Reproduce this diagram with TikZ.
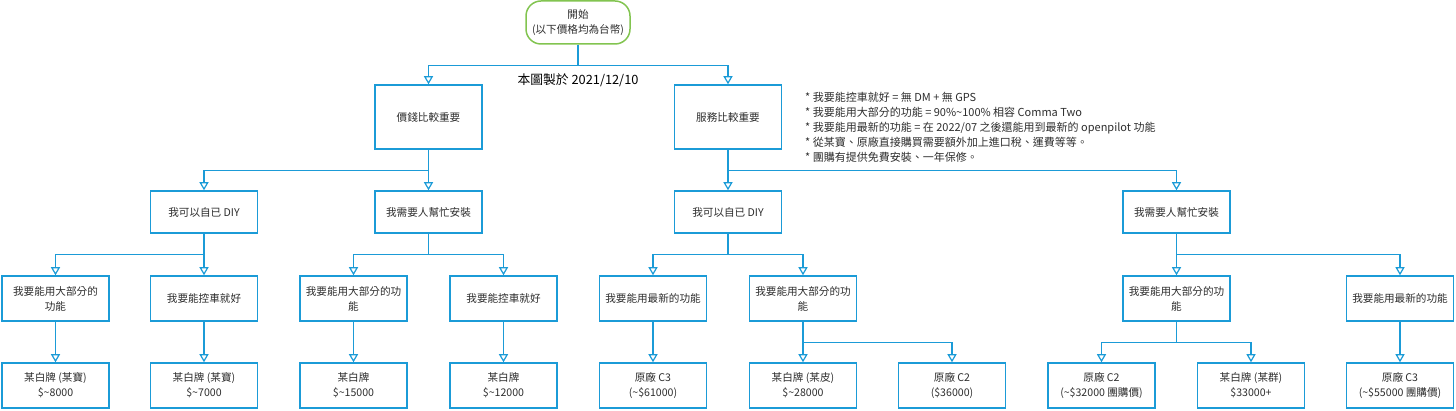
\documentclass[tikz,border=0pt]{standalone}
\usepackage{fontspec}
\setmainfont{Noto Sans CJK TC}
\usetikzlibrary{arrows.meta}
\definecolor{flowblue}{RGB}{27,155,215}
\definecolor{startgreen}{RGB}{130,196,80}
\definecolor{textgray}{RGB}{45,45,45}
\tikzset{
  box/.style={draw=flowblue,line width=1.5pt,fill=white,text=textgray,
    minimum width=107pt,minimum height=45pt,align=center,inner sep=2pt,
    font=\fontsize{10.6}{15}\selectfont},
  fork/.style={draw=flowblue,line width=1.2pt,
    -{Triangle[fill=white,length=8pt,width=9pt]},
    to path={-- ++(0,21) -| (\tikztotarget)}}
}
\begin{document}
\begin{tikzpicture}[x=1pt,y=-1pt]
  \useasboundingbox (0,0) rectangle (1456,411);
  % start and notes
  \node[draw=startgreen,line width=1.5pt,rounded corners=15pt,fill=white,
        text=textgray,minimum width=104pt,minimum height=43pt,align=center,
        font=\fontsize{10.6}{15}\selectfont] (start) at (578,22.5)
        {開始\\(以下價格均為台幣)};
  \node[text=black,font=\fontsize{12.8}{15}\selectfont] (date) at (578,80)
        {本圖製於 2021/12/10};
  \node[anchor=north west,inner sep=0pt,align=left,text=textgray,
        font=\fontsize{11}{15}\selectfont] (notes) at (805,92)
        {* 我要能控車就好 = 無 DM + 無 GPS\\
         * 我要能用大部分的功能 = 90\%\textasciitilde 100\% 相容 Comma Two\\
         * 我要能用最新的功能 = 在 2022/07 之後還能用到最新的 openpilot 功能\\
         * 從某寶、原廠直接購買需要額外加上進口稅、運費等等。\\
         * 團購有提供免費安裝、一年保修。};
  \begin{scope}[every node/.style={box}]
    % level 1
    \node[minimum height=64pt] (price) at (428.5,117) {價錢比較重要};
    \node[minimum height=64pt] (service) at (728,117) {服務比較重要};
    % level 2
    \node[minimum height=42pt] (diyA) at (204,212) {我可以自已 DIY};
    \node[minimum height=42pt] (helpA) at (428.5,212) {我需要人幫忙安裝};
    \node[minimum height=42pt] (diyB) at (728,212) {我可以自已 DIY};
    \node[minimum height=42pt] (helpB) at (1176.5,212) {我需要人幫忙安裝};
    % level 3
    \node (mostA) at (55.5,298.5) {我要能用大部分的\\功能};
    \node (ctrlA) at (204,298.5) {我要能控車就好};
    \node (mostB) at (353.5,298.5) {我要能用大部分的功\\能};
    \node (ctrlB) at (503.5,298.5) {我要能控車就好};
    \node (newC) at (653,298.5) {我要能用最新的功能};
    \node (mostC) at (803,298.5) {我要能用大部分的功\\能};
    \node (mostD) at (1176.5,298.5) {我要能用大部分的功\\能};
    \node (newD) at (1400,298.5) {我要能用最新的功能};
    % level 4
    \node (taoA) at (55.5,385.5) {某白牌 (某寶)\\\$\textasciitilde 8000};
    \node (taoB) at (204,385.5) {某白牌 (某寶)\\\$\textasciitilde 7000};
    \node (whiteA) at (353.5,385.5) {某白牌\\\$\textasciitilde 15000};
    \node (whiteB) at (503.5,385.5) {某白牌\\\$\textasciitilde 12000};
    \node (c3A) at (653,385.5) {原廠 C3\\(\textasciitilde\$61000)};
    \node (piB) at (803,385.5) {某白牌 (某皮)\\\$\textasciitilde 28000};
    \node (c2A) at (952,385.5) {原廠 C2\\(\$36000)};
    \node (c2B) at (1101.5,385.5) {原廠 C2\\(\textasciitilde\$32000 團購價)};
    \node (groupB) at (1251,385.5) {某白牌 (某群)\\\$33000+};
    \node (c3B) at (1400,385.5) {原廠 C3\\(\textasciitilde\$55000 團購價)};
  \end{scope}
  \begin{scope}[every edge/.style={fork}]
    \path (start.south) edge (price.north)
          (start.south) edge (service.north)
          (price.south) edge (diyA.north)
          (price.south) edge (helpA.north)
          (service.south) edge (diyB.north)
          (service.south) edge (helpB.north)
          (diyA.south) edge (mostA.north)
          (diyA.south) edge (ctrlA.north)
          (helpA.south) edge (mostB.north)
          (helpA.south) edge (ctrlB.north)
          (diyB.south) edge (newC.north)
          (diyB.south) edge (mostC.north)
          (helpB.south) edge (mostD.north)
          (helpB.south) edge (newD.north)
          (mostA.south) edge (taoA.north)
          (ctrlA.south) edge (taoB.north)
          (mostB.south) edge (whiteA.north)
          (ctrlB.south) edge (whiteB.north)
          (newC.south) edge (c3A.north)
          (mostC.south) edge (piB.north)
          (mostC.south) edge (c2A.north)
          (mostD.south) edge (c2B.north)
          (mostD.south) edge (groupB.north)
          (newD.south) edge (c3B.north);
  \end{scope}
\end{tikzpicture}
\end{document}
